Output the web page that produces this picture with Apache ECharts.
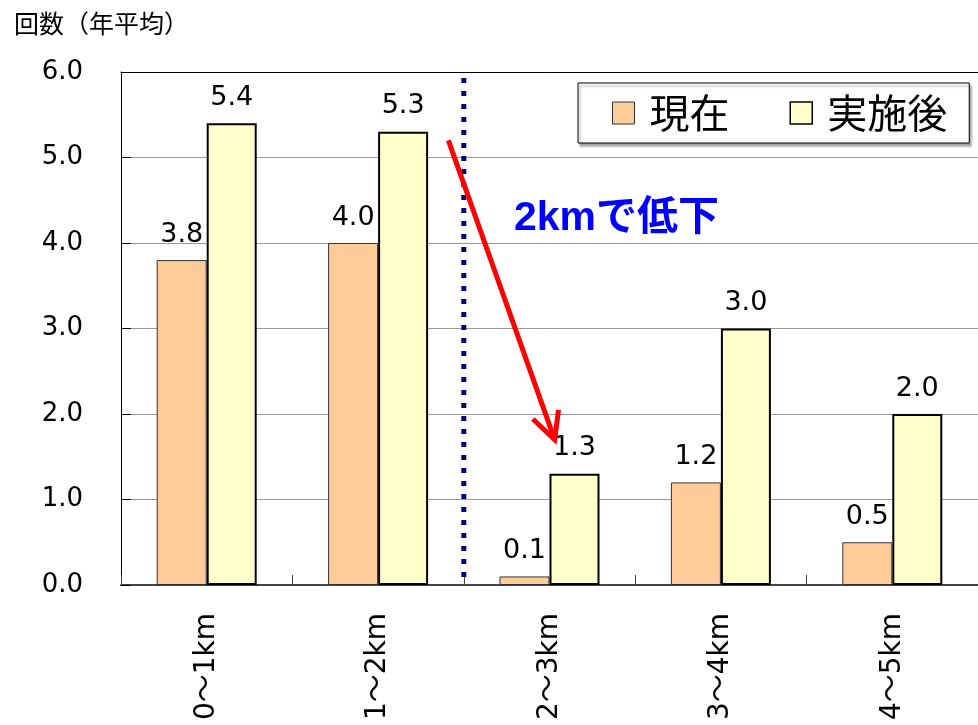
<!DOCTYPE html>
<html>
<head>
<meta charset="utf-8">
<title>回数（年平均）</title>
<script src="https://cdn.jsdelivr.net/npm/echarts@6/dist/echarts.min.js"></script>
<style>
  html, body { margin: 0; padding: 0; background: #fff; }
  #chart { width: 978px; height: 725px; }
</style>
</head>
<body>
<div id="chart"></div>
<script>
// Distance bands and yearly average counts
const categories = ['0～1km', '1～2km', '2～3km', '3～4km', '4～5km'];
const seriesNames = ['現在', '実施後'];
const currentValues = [3.8, 4.0, 0.1, 1.2, 0.5];
const afterValues = [5.4, 5.3, 1.3, 3.0, 2.0];
const yTicks = [0, 1, 2, 3, 4, 5, 6];

// Boundary between the 1～2km and 2～3km bands (in band units along x)
const dividerX = 2;
const dividerSpan = [5.93, 0.08];
// Arrow from the 1～2km level down toward the 2～3km level: [x0, y0, x1, y1]
const arrowPath = [1.91, 5.2, 2.53, 1.7];
const noteText = '2kmで低下';

const numFont = '"DejaVu Sans", "Noto Sans CJK JP", sans-serif';
const jpFont = '"Noto Sans CJK JP", "Liberation Sans", sans-serif';

const chart = echarts.init(document.getElementById('chart'), null, { renderer: 'canvas' });

const barLabel = {
  show: true,
  position: 'top',
  distance: 12,
  fontSize: 27,
  fontFamily: numFont,
  color: '#000',
  formatter: p => p.value.toFixed(1)
};

chart.setOption({
  animation: false,
  backgroundColor: '#fff',
  title: {
    text: '回数（年平均）',
    left: 9,
    top: 6,
    textStyle: { fontSize: 25, fontWeight: 'normal', color: '#000', fontFamily: jpFont }
  },
  legend: {
    left: 578,
    top: 83,
    orient: 'horizontal',
    icon: 'rect',
    itemWidth: 22,
    itemHeight: 22,
    itemGap: 60,
    padding: [10, 22, 10, 34],
    borderColor: '#000',
    borderWidth: 1,
    backgroundColor: '#fff',
    shadowColor: 'rgba(0,0,0,0.35)',
    shadowOffsetX: 2,
    shadowOffsetY: 3,
    shadowBlur: 2,
    // a fixed-width spacer token keeps the name clear of its swatch
    formatter: name => '{gap|}' + name,
    textStyle: {
      fontSize: 40, color: '#000', fontFamily: jpFont, lineHeight: 40,
      rich: { gap: { width: 10 } }
    },
    data: [
      { name: seriesNames[0], itemStyle: { color: '#FFCC99', borderColor: '#333', borderWidth: 1 } },
      { name: seriesNames[1], itemStyle: { color: '#FFFFCC', borderColor: '#000', borderWidth: 1.5 } }
    ]
  },
  grid: { left: 121, right: 0, top: 72, bottom: 140, containLabel: false },
  xAxis: [
    {
      type: 'category',
      data: categories,
      boundaryGap: true,
      axisLine: { show: true, lineStyle: { color: '#444', width: 2 } },
      axisTick: { show: true, inside: true, length: 10, lineStyle: { color: '#444', width: 1 } },
      axisLabel: { rotate: 90, margin: 28, fontSize: 28, color: '#000', fontFamily: numFont },
      splitLine: { show: false }
    },
    {
      // Band-unit axis along the top edge; also frames the plot's top border
      type: 'value',
      position: 'top',
      min: 0,
      max: categories.length,
      axisLine: { show: true, onZero: false, lineStyle: { color: '#000', width: 1 } },
      axisTick: { show: false },
      axisLabel: { show: false },
      splitLine: { show: false }
    }
  ],
  yAxis: {
    type: 'value',
    min: yTicks[0],
    max: yTicks[yTicks.length - 1],
    interval: 1,
    axisLine: { show: true, lineStyle: { color: '#000', width: 1 } },
    axisTick: { show: true, inside: true, length: 10, lineStyle: { color: '#000' } },
    axisLabel: { fontSize: 26, color: '#000', margin: 38, fontFamily: numFont, formatter: v => v.toFixed(1) },
    splitLine: { show: true, lineStyle: { color: '#999', width: 1 } }
  },
  graphic: [
    {
      type: 'text',
      left: 514,
      top: 198,
      style: { text: noteText, fill: '#0000FF', font: 'bold 41px "Liberation Sans", "Noto Sans CJK JP", sans-serif' }
    }
  ],
  series: [
    {
      name: seriesNames[0],
      type: 'bar',
      data: currentValues,
      barWidth: 50,
      barGap: '0%',
      itemStyle: { color: '#FFCC99', borderColor: '#333', borderWidth: 1 },
      label: barLabel
    },
    {
      name: seriesNames[1],
      type: 'bar',
      data: afterValues,
      barWidth: 50,
      barGap: '0%',
      itemStyle: { color: '#FFFFCC', borderColor: '#000', borderWidth: 2 },
      label: barLabel
    },
    {
      name: 'divider',
      type: 'line',
      xAxisIndex: 1,
      data: [[dividerX, dividerSpan[0]], [dividerX, dividerSpan[1]]],
      symbol: 'none',
      silent: true,
      lineStyle: { color: '#000080', width: 5, type: [5, 8] },
      z: 5
    },
    {
      name: 'arrow',
      type: 'custom',
      xAxisIndex: 1,
      silent: true,
      z: 6,
      data: [arrowPath],
      renderItem: (params, api) => {
        const p0 = api.coord([api.value(0), api.value(1)]);
        const p1 = api.coord([api.value(2), api.value(3)]);
        const ang = Math.atan2(p0[1] - p1[1], p0[0] - p1[0]);
        const headLen = 30, spread = 27 * Math.PI / 180;
        const a = [p1[0] + headLen * Math.cos(ang + spread), p1[1] + headLen * Math.sin(ang + spread)];
        const b = [p1[0] + headLen * Math.cos(ang - spread), p1[1] + headLen * Math.sin(ang - spread)];
        const style = { stroke: '#FF0000', lineWidth: 5, fill: null, lineJoin: 'miter' };
        return {
          type: 'group',
          children: [
            { type: 'line', shape: { x1: p0[0], y1: p0[1], x2: p1[0], y2: p1[1] }, style },
            { type: 'polyline', shape: { points: [a, p1, b] }, style }
          ]
        };
      }
    }
  ]
});
</script>
</body>
</html>
